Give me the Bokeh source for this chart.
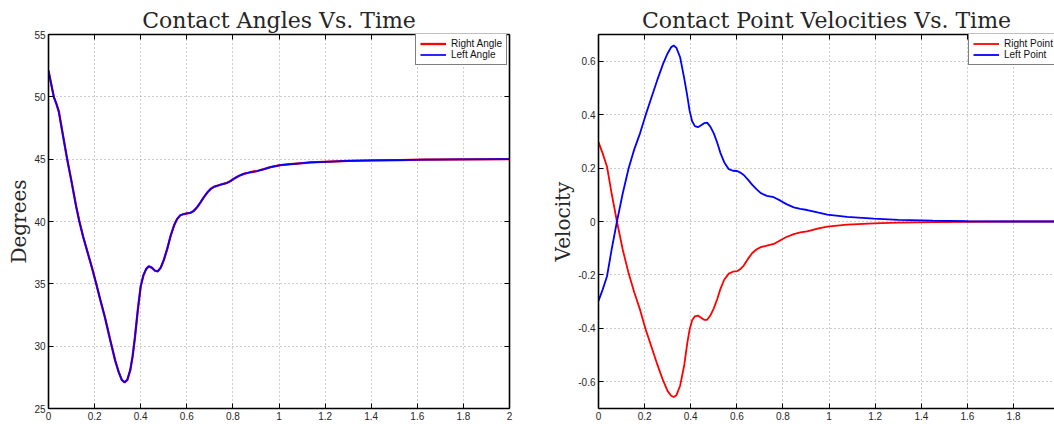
from bokeh.plotting import figure
from bokeh.layouts import row
from bokeh.models import (LinearAxis, FixedTicker, CustomJSTickFormatter, Title,
                          Range1d, Legend, LegendItem)
from bokeh.embed import file_html
from bokeh.resources import INLINE

# ---------------- data ----------------
angle_t = [0.000, 0.012, 0.023, 0.035, 0.045, 0.060, 0.081, 0.100, 0.120, 0.134,
           0.150, 0.170, 0.190, 0.207, 0.225, 0.245, 0.269, 0.290, 0.305, 0.318,
           0.330, 0.342, 0.355, 0.365, 0.375, 0.388, 0.400, 0.412, 0.424, 0.435,
           0.448, 0.462, 0.474, 0.487, 0.500, 0.515, 0.529, 0.545, 0.558, 0.572,
           0.587, 0.601, 0.616, 0.630, 0.645, 0.660, 0.674, 0.690, 0.703, 0.720,
           0.746, 0.775, 0.790, 0.804, 0.825, 0.847, 0.875, 0.905, 0.935, 0.963,
           1.006, 1.050, 1.079, 1.137, 1.223, 1.300, 1.410, 1.520, 1.630, 1.800,
           2.000]
right_angle = [52.1, 51.0, 50.0, 49.4, 48.8, 47.2, 45.0, 43.2, 41.2, 40.0,
               38.8, 37.5, 36.2, 35.0, 33.7, 32.3, 30.4, 28.8, 27.9, 27.3,
               27.1, 27.3, 28.1, 29.2, 30.7, 33.0, 34.8, 35.7, 36.2, 36.4,
               36.3, 36.05, 36.0, 36.3, 36.9, 37.8, 38.8, 39.7, 40.2, 40.5,
               40.6, 40.65, 40.7, 40.85, 41.15, 41.55, 41.95, 42.35, 42.6, 42.8,
               42.95, 43.1, 43.25, 43.43, 43.65, 43.82, 43.95, 44.05, 44.2, 44.36,
               44.52, 44.6, 44.65, 44.74, 44.81, 44.86, 44.9, 44.93, 44.96, 44.98,
               45.0]
left_angle = [52.1, 51.0, 50.0, 49.4, 48.8, 47.2, 45.0, 43.2, 41.2, 40.0,
              38.8, 37.5, 36.2, 35.0, 33.7, 32.3, 30.4, 28.8, 27.9, 27.3,
              27.1, 27.3, 28.1, 29.2, 30.7, 33.0, 34.8, 35.7, 36.2, 36.4,
              36.3, 36.05, 36.0, 36.3, 36.9, 37.8, 38.8, 39.7, 40.2, 40.5,
              40.6, 40.65, 40.7, 40.85, 41.15, 41.55, 41.95, 42.35, 42.6, 42.8,
              42.95, 43.1, 43.25, 43.43, 43.65, 43.82, 43.95, 44.05, 44.2, 44.36,
              44.52, 44.6, 44.65, 44.74, 44.81, 44.86, 44.9, 44.93, 44.96, 44.98,
              45.0]

vel_t = [0.000, 0.018, 0.037, 0.058, 0.080, 0.105, 0.131, 0.155, 0.180, 0.205,
         0.230, 0.255, 0.280, 0.300, 0.315, 0.326, 0.338, 0.354, 0.372, 0.385,
         0.395, 0.406, 0.418, 0.431, 0.445, 0.458, 0.471, 0.485, 0.500, 0.515,
         0.529, 0.545, 0.565, 0.583, 0.601, 0.615, 0.630, 0.648, 0.667, 0.686,
         0.704, 0.730, 0.760, 0.789, 0.815, 0.847, 0.875, 0.905, 0.950, 0.992,
         1.078, 1.194, 1.300, 1.450, 1.600, 1.800, 2.000]
right_point = [0.297, 0.255, 0.205, 0.100, 0.000, -0.105, -0.195, -0.265, -0.330, -0.405,
               -0.470, -0.535, -0.595, -0.635, -0.652, -0.657, -0.650, -0.615, -0.537, -0.455,
               -0.405, -0.370, -0.355, -0.352, -0.360, -0.368, -0.368, -0.352, -0.325, -0.290,
               -0.252, -0.218, -0.195, -0.188, -0.186, -0.178, -0.165, -0.140, -0.118, -0.104,
               -0.096, -0.090, -0.084, -0.070, -0.058, -0.047, -0.041, -0.037, -0.027, -0.019,
               -0.012, -0.007, -0.004, -0.002, -0.001, 0.000, 0.000]
left_point = [-0.297, -0.255, -0.205, -0.100, 0.000, 0.105, 0.200, 0.270, 0.330, 0.400,
              0.465, 0.530, 0.590, 0.630, 0.652, 0.659, 0.650, 0.615, 0.535, 0.470,
              0.415, 0.375, 0.357, 0.353, 0.360, 0.368, 0.370, 0.355, 0.330, 0.295,
              0.256, 0.222, 0.196, 0.190, 0.189, 0.183, 0.174, 0.157, 0.137, 0.120,
              0.106, 0.096, 0.091, 0.078, 0.065, 0.053, 0.047, 0.043, 0.034, 0.026,
              0.017, 0.011, 0.006, 0.003, 0.001, 0.000, 0.000]

x_ticks = [0, 0.2, 0.4, 0.6, 0.8, 1.0, 1.2, 1.4, 1.6, 1.8, 2.0]
angle_ticks = [25, 30, 35, 40, 45, 50, 55]
vel_ticks = [-0.6, -0.4, -0.2, 0, 0.2, 0.4, 0.6]

# ---------------- styling helpers ----------------
FMT = "return String(Number(tick.toFixed(2)));"
TICK_FONT = "Liberation Sans"
SERIF = "DejaVu Serif"
TXT = "#262626"


def style_axis(ax, ticks, labels=True):
    ax.ticker = FixedTicker(ticks=ticks)
    ax.major_tick_in = 5
    ax.major_tick_out = 0
    ax.minor_tick_line_color = None
    ax.axis_line_color = "black"
    ax.axis_line_width = 1.6
    ax.major_tick_line_color = "black"
    ax.major_tick_line_width = 1
    if labels:
        ax.formatter = CustomJSTickFormatter(code=FMT)
        ax.major_label_text_font = TICK_FONT
        ax.major_label_text_font_size = "10px"
        ax.major_label_text_color = TXT
        ax.major_label_standoff = 3
    else:
        ax.formatter = CustomJSTickFormatter(code="return '';")
        ax.major_label_text_font_size = "0px"
        ax.major_label_standoff = 0


def make_fig(width, left, right, xr, yr, yticks, ylabel, title, right_axis):
    p = figure(width=width, height=424, x_range=xr, y_range=yr,
               output_backend="svg", toolbar_location=None,
               min_border_left=left, min_border_right=right,
               min_border_top=34, min_border_bottom=16)
    p.outline_line_color = None
    p.background_fill_color = "white"
    p.border_fill_color = "white"
    style_axis(p.xaxis[0], x_ticks)
    style_axis(p.yaxis[0], yticks)
    p.yaxis[0].axis_label = ylabel
    p.yaxis[0].axis_label_text_font = SERIF
    p.yaxis[0].axis_label_text_font_size = "20px"
    p.yaxis[0].axis_label_text_font_style = "normal"
    p.yaxis[0].axis_label_text_color = TXT
    p.yaxis[0].axis_label_standoff = 0
    top = LinearAxis()
    style_axis(top, x_ticks, labels=False)
    p.add_layout(top, "above")
    if right_axis:
        ra = LinearAxis()
        style_axis(ra, yticks, labels=False)
        p.add_layout(ra, "right")
    p.add_layout(Title(text=title, align="center", text_font=SERIF,
                       text_font_size="22px", text_font_style="normal",
                       text_color=TXT, standoff=4), "above")
    for g in (p.xgrid[0], p.ygrid[0]):
        g.grid_line_color = "#9c9c9c"
        g.grid_line_dash = "1 3"
        g.grid_line_width = 1
    p.xgrid[0].ticker = FixedTicker(ticks=x_ticks)
    p.ygrid[0].ticker = FixedTicker(ticks=yticks)
    return p


def add_legend(p, items, loc):
    lg = Legend(items=items, location=loc)
    lg.border_line_color = "black"
    lg.border_line_width = 1.5
    lg.background_fill_color = "white"
    lg.background_fill_alpha = 1
    lg.padding = 4
    lg.spacing = 0
    lg.margin = 0
    lg.glyph_width = 26
    lg.glyph_height = 9
    lg.label_height = 9
    lg.label_standoff = 5
    lg.label_text_font = TICK_FONT
    lg.label_text_font_size = "10px"
    lg.label_text_color = "#111111"
    p.add_layout(lg)


# ---------------- left: angles ----------------
p1 = make_fig(529, 48, 20, Range1d(0, 2), Range1d(25, 55), angle_ticks,
              "Degrees", "Contact Angles Vs. Time", True)
r1 = p1.line(angle_t, right_angle, line_color="#ff0000", line_width=2.3)
r2 = p1.line(angle_t, left_angle, line_color="#0000ff", line_width=1.7)
add_legend(p1, [LegendItem(label="Right Angle", renderers=[r1]),
                LegendItem(label="Left Angle", renderers=[r2])], (367, 343))

# ---------------- right: velocities ----------------
p2 = make_fig(525, 69, 0, Range1d(0, 1.9775), Range1d(-0.7, 0.7), vel_ticks,
              "Velocity", "Contact Point Velocities Vs. Time", False)
r3 = p2.line(vel_t, right_point, line_color="#ff0000", line_width=1.8)
r4 = p2.line(vel_t, left_point, line_color="#0000ff", line_width=1.8)
add_legend(p2, [LegendItem(label="Right Point", renderers=[r3]),
                LegendItem(label="Left Point", renderers=[r4])], (370, 343))

layout = row(p1, p2)
open("out.html", "w").write(file_html(layout, INLINE))
